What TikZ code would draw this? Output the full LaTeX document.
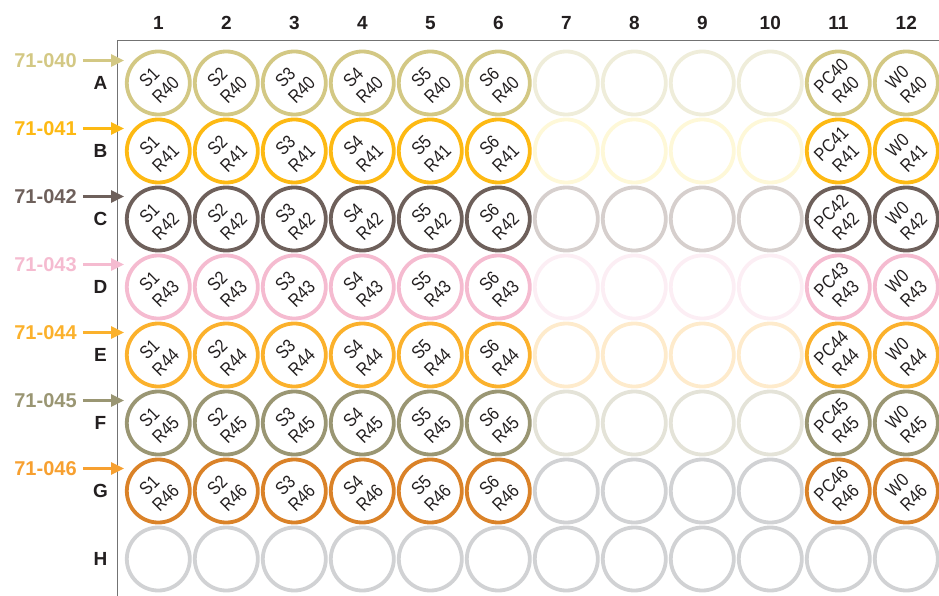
\documentclass[tikz,border=0pt]{standalone}
\usepackage{fontspec}
\setmainfont{Liberation Sans}
\newfontfamily\wellfont[FakeStretch=0.85]{Liberation Sans}
\usetikzlibrary{arrows.meta}
\definecolor{ink}{HTML}{231F20}
\definecolor{c40}{HTML}{D3C884}
\definecolor{c41}{HTML}{FDB913}
\definecolor{c42}{HTML}{6E605B}
\definecolor{c43}{HTML}{F5BBD0}
\definecolor{c44}{HTML}{FBB12C}
\definecolor{c45}{HTML}{9A9673}
\definecolor{c46}{HTML}{DA8228}
\definecolor{l46}{HTML}{F7A030}
\definecolor{f40}{HTML}{EFEDDA}
\definecolor{f41}{HTML}{FEF8D8}
\definecolor{f42}{HTML}{D6CFCD}
\definecolor{f43}{HTML}{FCEEF4}
\definecolor{f44}{HTML}{FEEBCC}
\definecolor{f45}{HTML}{E4E3D8}
\definecolor{emptywell}{HTML}{D1D2D4}

\begin{document}
\begin{tikzpicture}[
    x=1pt, y=-1pt,
    well/.style={circle, draw=#1, line width=3.8pt, minimum size=63pt, inner sep=0pt, rotate=45, align=center, text=ink, font=\wellfont\fontsize{18.5}{20.5}\selectfont},
    colnum/.style={text=ink, font=\bfseries\fontsize{19}{19}\selectfont},
    rowlet/.style={text=ink, font=\bfseries\fontsize{19}{19}\selectfont},
    sample/.style={text=#1, inner sep=1pt, font=\bfseries\fontsize{20}{20}\selectfont},
    arr/.style={-{Triangle[length=13pt, width=12pt]}, line width=2.6pt, draw=#1},
    frame/.style={draw=black!55, line width=1.4pt}
]
    \useasboundingbox (0,0) rectangle (939,596);

    % plate outline
    \draw[frame] (939,40.7) -| (117.7,596);

    % column numbers
    \foreach \c in {1,...,12}
        \node[colnum] (col-\c) at ({158.3+68*(\c-1)}, 22.7) {\c};

    % sample rows A to G
    \foreach \r/\row/\num/\col/\fade/\lab in {1/A/40/c40/f40/c40, 2/B/41/c41/f41/c41, 3/C/42/c42/f42/c42, 4/D/43/c43/f43/c43, 5/E/44/c44/f44/c44, 6/F/45/c45/f45/c45, 7/G/46/c46/emptywell/l46}{
        \node[rowlet] (row-\row) at (100.5, {83+68*(\r-1)}) {\row};
        \foreach \c in {1,...,6}
            \node[well=\col] (w-\row-\c) at ({158.3+68*(\c-1)}, {83+68*(\r-1)}) {S\c\hspace*{5pt}\\R\num};
        \foreach \c in {7,...,10}
            \node[well=\fade] (w-\row-\c) at ({158.3+68*(\c-1)}, {83+68*(\r-1)}) {};
        \node[well=\col] (w-\row-11) at (838.3, {83+68*(\r-1)}) {PC\num\\R\num};
        \node[well=\col] (w-\row-12) at (906.3, {83+68*(\r-1)}) {W0\hspace*{5pt}\\R\num};

        \node[sample=\lab] (lbl-\row) at (45.5, {60.5+68*(\r-1)}) {71-0\num};
        \coordinate (tip-\row) at (124, {60.5+68*(\r-1)});
        \draw[arr=\lab] ([xshift=5pt]lbl-\row.east) -- (tip-\row);
    }

    % empty row H
    \node[rowlet] (row-H) at (100.5, 559) {H};
    \foreach \c in {1,...,12}
        \node[well=emptywell] (w-H-\c) at ({158.3+68*(\c-1)}, 559) {};
\end{tikzpicture}
\end{document}
